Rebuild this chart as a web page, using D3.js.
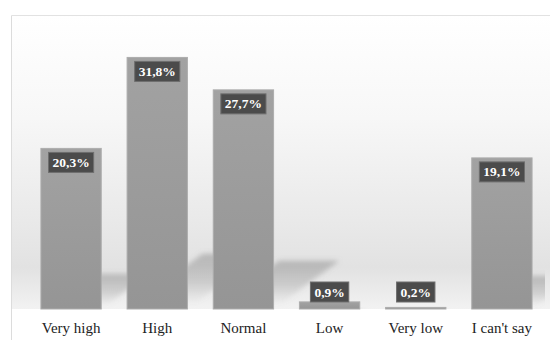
<!DOCTYPE html>
<html>
<head>
<meta charset="utf-8">
<script src="https://cdn.jsdelivr.net/npm/d3@7"></script>
<style>
  html, body { margin: 0; padding: 0; background: #fff; }
  svg { display: block; }
  .serif { font-family: "Liberation Serif", "Times New Roman", Times, serif; }
</style>
</head>
<body>
<svg id="chart" width="550" height="340"></svg>
<script>
const categories = ["Very high", "High", "Normal", "Low", "Very low", "I can't say"];
const values = [20.3, 31.8, 27.7, 0.9, 0.2, 19.1];

const width = 550;
const height = 340;
const frameLeft = 11.5;
const frameTop = 15.5;
const baseline = 309;

const svg = d3.select("#chart");
const defs = svg.append("defs");

// comma as decimal mark, like the source
const locale = d3.formatLocale({ decimal: ",", thousands: " ", grouping: [3], currency: ["", ""] });
const fmt = locale.format(".1f");

const x = d3.scaleBand()
  .domain(categories)
  .range([28, 545])
  .paddingInner(0.3)
  .paddingOuter(0.15);

const y = d3.scaleLinear()
  .domain([0, 37.1])
  .range([baseline, frameTop]);

// plot background gradient
const bg = defs.append("linearGradient")
  .attr("id", "bg")
  .attr("gradientUnits", "userSpaceOnUse")
  .attr("x1", 0).attr("y1", frameTop)
  .attr("x2", 0).attr("y2", baseline);
[
  [0, "#ffffff"],
  [0.35, "#f7f7f7"],
  [0.7, "#e9e9e9"],
  [0.86, "#e2e2e2"],
  [1, "#f2f2f2"],
].forEach(([o, c]) => bg.append("stop").attr("offset", o).attr("stop-color", c));

const barGrad = defs.append("linearGradient")
  .attr("id", "barGrad")
  .attr("x1", 0).attr("y1", 0).attr("x2", 0).attr("y2", 1);
barGrad.append("stop").attr("offset", 0).attr("stop-color", "#a2a2a2");
barGrad.append("stop").attr("offset", 1).attr("stop-color", "#959595");

const shadowGrad = defs.append("linearGradient")
  .attr("id", "shadowGrad")
  .attr("x1", 0).attr("y1", 0).attr("x2", 0).attr("y2", 1);
shadowGrad.append("stop").attr("offset", 0).attr("stop-color", "#8a8a8a").attr("stop-opacity", 0.5);
shadowGrad.append("stop").attr("offset", 0.5).attr("stop-color", "#8a8a8a").attr("stop-opacity", 0.3);
shadowGrad.append("stop").attr("offset", 0.9).attr("stop-color", "#8a8a8a").attr("stop-opacity", 0);

defs.append("filter")
  .attr("id", "blur")
  .attr("x", "-20%").attr("y", "-20%")
  .attr("width", "140%").attr("height", "140%")
  .append("feGaussianBlur")
  .attr("stdDeviation", 2.5);

defs.append("clipPath")
  .attr("id", "plotClip")
  .append("rect")
  .attr("x", frameLeft)
  .attr("y", frameTop)
  .attr("width", 545 - frameLeft)
  .attr("height", baseline - frameTop);

svg.append("rect")
  .attr("x", frameLeft)
  .attr("y", frameTop)
  .attr("width", width - frameLeft)
  .attr("height", baseline - frameTop)
  .attr("fill", "url(#bg)");

// frame lines
svg.append("line")
  .attr("x1", frameLeft).attr("x2", frameLeft)
  .attr("y1", frameTop).attr("y2", height)
  .attr("stroke", "#dcdcdc");
svg.append("line")
  .attr("x1", frameLeft).attr("x2", width)
  .attr("y1", frameTop).attr("y2", frameTop)
  .attr("stroke", "#e2e2e2");

// perspective floor shadows
svg.append("g")
  .attr("clip-path", "url(#plotClip)")
  .selectAll("path")
  .data(values)
  .join("path")
  .attr("d", (d, i) => {
    const h = baseline - y(d);
    const dx = 0.3 * h;
    const dy = 0.22 * h;
    const x0 = x(categories[i]);
    const x1 = x0 + x.bandwidth();
    return `M${x0},${baseline}L${x1},${baseline}L${x1 + dx},${baseline - dy}L${x0 + dx},${baseline - dy}Z`;
  })
  .attr("fill", "url(#shadowGrad)")
  .attr("filter", "url(#blur)");

// bars
svg.append("g")
  .selectAll("rect")
  .data(values)
  .join("rect")
  .attr("x", (d, i) => x(categories[i]))
  .attr("y", d => y(d))
  .attr("width", x.bandwidth())
  .attr("height", d => baseline - y(d))
  .attr("fill", "url(#barGrad)")
  .attr("stroke", "#adadad")
  .attr("stroke-width", 1);

// value labels
const boxH = 20;
const labels = svg.append("g")
  .selectAll("g")
  .data(values)
  .join("g")
  .attr("transform", (d, i) => {
    const cx = x(categories[i]) + x.bandwidth() / 2;
    const top = Math.min(y(d) + 4, baseline - 7 - boxH);
    return `translate(${cx},${top})`;
  });

labels.append("text")
  .attr("class", "serif")
  .attr("y", boxH / 2 + 4.5)
  .attr("text-anchor", "middle")
  .attr("font-weight", "bold")
  .attr("font-size", 13.5)
  .attr("fill", "#fff")
  .text(d => fmt(d) + "%");

labels.each(function () {
  const g = d3.select(this);
  const w = g.select("text").node().getComputedTextLength() + 8;
  g.insert("rect", "text")
    .attr("x", -w / 2)
    .attr("y", 0)
    .attr("width", w)
    .attr("height", boxH)
    .attr("fill", "#4b4b4b")
    .attr("stroke", "#6e6e6e")
    .attr("stroke-width", 1);
});

// category axis
const axis = svg.append("g")
  .attr("transform", `translate(0,${baseline})`)
  .call(d3.axisBottom(x).tickSize(0).tickPadding(13));
axis.select(".domain").remove();
axis.selectAll("text")
  .attr("class", "serif")
  .attr("font-size", 15)
  .attr("fill", "#222");
</script>
</body>
</html>
